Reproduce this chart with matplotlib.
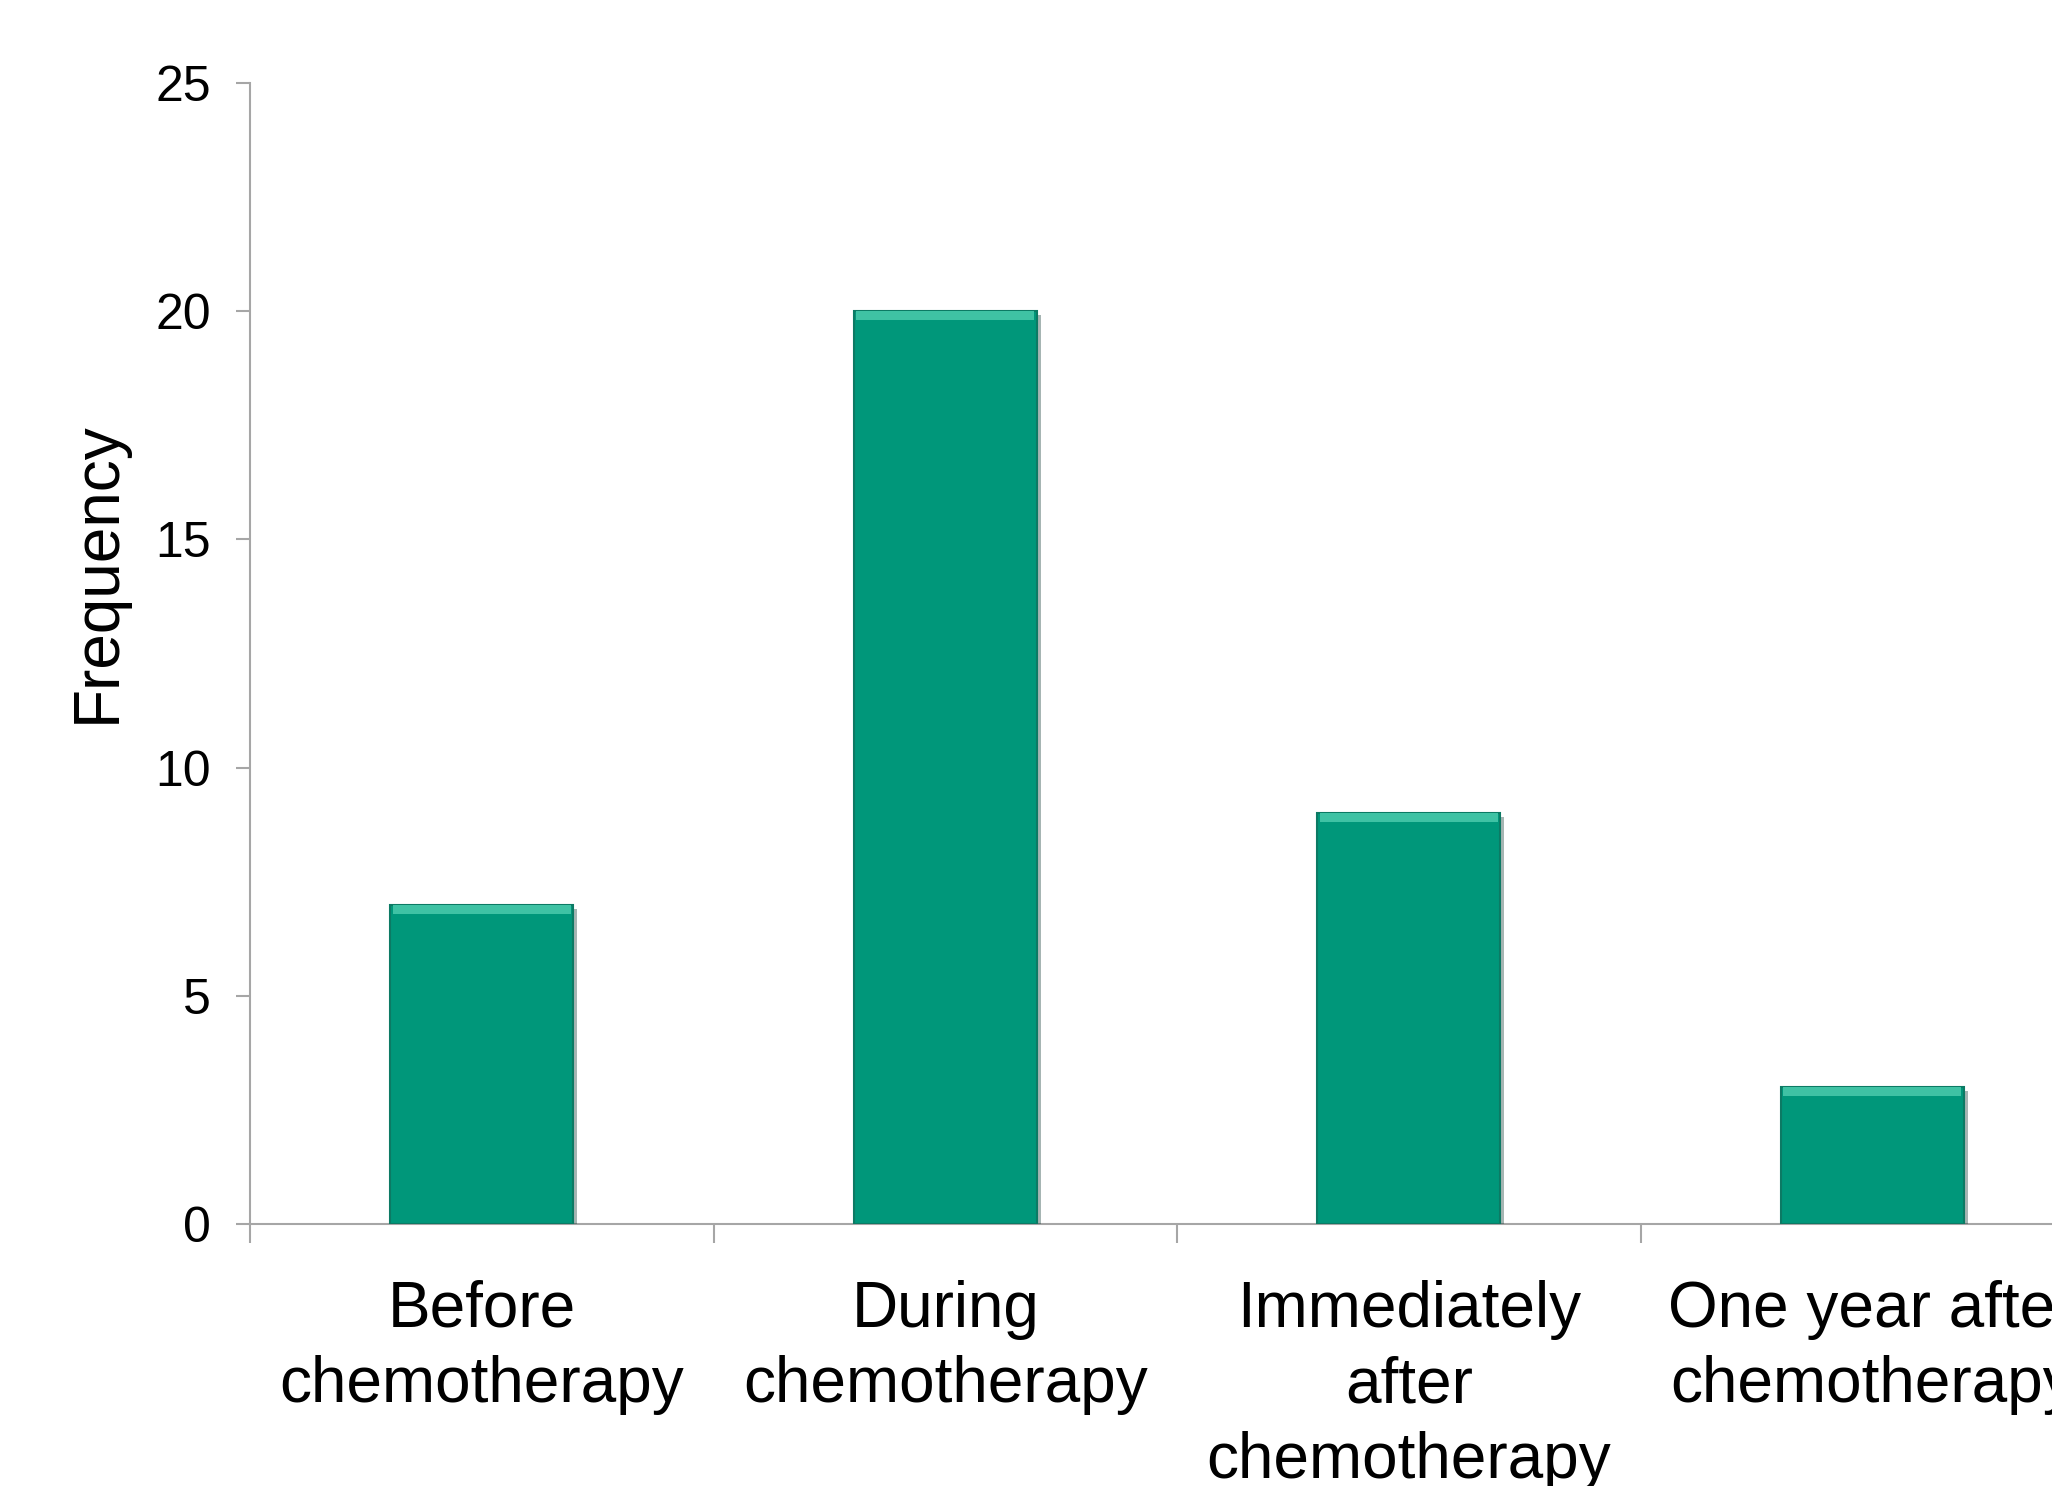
import numpy as np
import matplotlib
matplotlib.use("Agg")
import matplotlib.pyplot as plt
import matplotlib.patheffects as pe

# Datos
categorias = ["Before\nchemotherapy", "During\nchemotherapy",
              "Immediately\nafter\nchemotherapy", "One year after\nchemotherapy"]
frecuencias = [7, 20, 9, 3]
y_ticks = [0, 5, 10, 15, 20, 25]

plt.rcParams['font.family'] = ['Liberation Sans', 'DejaVu Sans']

verde = '#00977a'
gris = '#a6a6a6'

fig = plt.figure(figsize=(20.52, 14.86), dpi=100)
ax = fig.add_axes([250/2052, 262/1486, 1854/2052, 1141/1486])

x = np.arange(len(categorias))
barras = ax.bar(x, frecuencias, width=0.395, color=verde,
                edgecolor='#0c7a64', linewidth=1.5, zorder=3)
for b in barras:
    b.set_path_effects([pe.SimplePatchShadow(offset=(3, -3), alpha=0.35),
                        pe.Normal()])

# franja clara arriba (efecto bisel)
bisel = 0.2
ax.bar(x, bisel, bottom=np.array(frecuencias) - bisel, width=0.385,
       color='#3fc2a4', linewidth=0, zorder=4)

ax.set_xlim(-0.5, len(categorias) - 0.5)
ax.set_ylim(0, 25)
ax.set_yticks(y_ticks)
ax.set_xticks(x)
ax.set_xticklabels(categorias, fontsize=46, linespacing=1.33)
ax.set_xticks(np.arange(-0.5, len(categorias), 1), minor=True)
ax.tick_params(axis='x', which='major', length=0, pad=40)
ax.tick_params(axis='x', which='minor', length=14, width=1.5, color=gris)
ax.tick_params(axis='y', length=10, width=1.5, color=gris, labelsize=36, pad=18)

for s in ['top', 'right']:
    ax.spines[s].set_visible(False)
for s in ['left', 'bottom']:
    ax.spines[s].set_color(gris)
    ax.spines[s].set_linewidth(1.5)

ax.set_ylabel('Frequency', fontsize=46, va='center')
ax.yaxis.set_label_coords(-0.082, 0.571)

plt.savefig('out.png', dpi=100)
